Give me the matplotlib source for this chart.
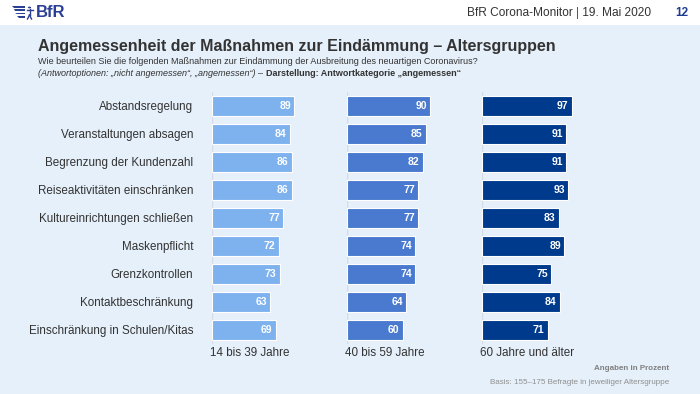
import matplotlib.pyplot as plt
from matplotlib.patches import Rectangle, Polygon, Circle
from matplotlib.lines import Line2D

plt.rcParams['font.family'] = ['Liberation Sans', 'DejaVu Sans']

massnahmen = ['Abstandsregelung', 'Veranstaltungen absagen', 'Begrenzung der Kundenzahl',
              'Reiseaktivitäten einschränken', 'Kultureinrichtungen schließen', 'Maskenpflicht',
              'Grenzkontrollen', 'Kontaktbeschränkung', 'Einschränkung in Schulen/Kitas']
gruppen = ['14 bis 39 Jahre', '40 bis 59 Jahre', '60 Jahre und älter']
jung = [89, 84, 86, 86, 77, 72, 73, 63, 69]
mittel = [90, 85, 82, 77, 77, 74, 74, 64, 60]
alt = [97, 91, 91, 93, 83, 89, 75, 84, 71]
werte = [jung, mittel, alt]
farben = ['#7EB2EF', '#4A7AD0', '#003A8C']

bg = '#E6F0FA'
txt = '#333333'
navy = '#2B3F94'
W, H = 700, 394

fig = plt.figure(figsize=(7, 3.94), dpi=100)
fig.patch.set_facecolor('white')
fig.add_artist(Rectangle((0, 0), 1, 1 - 25 / H, transform=fig.transFigure,
                         facecolor=bg, edgecolor='none', zorder=-10))
renderer = fig.canvas.get_renderer()


def px(x, y):
    return x / W, 1 - y / H


def chain(x, y, parts, **kw):
    # write several text pieces one after another on one line
    for s, extra in parts:
        t = fig.text(*px(x, y), s, va='center', ha='left', **kw, **extra)
        x += t.get_window_extent(renderer).width
    return x


# logo
for i in range(4):
    yy = 6 + i * 3.3
    xs = 12 + i * 1.5
    fig.add_artist(Polygon([px(xs, yy), px(25, yy), px(25, yy + 1.8), px(xs + 2, yy + 1.8)],
                           transform=fig.transFigure, facecolor=navy, edgecolor='none'))
fig.add_artist(Circle(px(29.5, 7.5), 1.6 / W, transform=fig.transFigure,
                      facecolor=navy, edgecolor='none'))
for seg in [((29.5, 9), (29.5, 15)), ((26.5, 10), (32.5, 10)), ((29.5, 15), (27.5, 19)),
            ((29.5, 15), (31.5, 19))]:
    (a, b), (c, d) = seg
    fig.add_artist(Line2D([a / W, c / W], [1 - b / H, 1 - d / H], transform=fig.transFigure,
                          color=navy, lw=1.0))
fig.text(*px(36, 12.5), 'BfR', fontsize=12, fontweight='bold', color=navy, va='center')

# header
chain(467, 13, [('BfR Corona-Monitor ', {'color': txt}), ('|', {'color': '#2B5FB0'}),
                 (' 19. Mai 2020', {'color': txt})], fontsize=8.6)
fig.text(*px(688, 13), '12', fontsize=8.5, fontweight='bold', color='#1F3C91', va='center', ha='right')

# title
fig.text(*px(38, 46), 'Angemessenheit der Maßnahmen zur Eindämmung – Altersgruppen',
         fontsize=11.5, fontweight='bold', color=txt, va='center')
fig.text(*px(38, 62),
         'Wie beurteilen Sie die folgenden Maßnahmen zur Eindämmung der Ausbreitung des neuartigen Coronavirus?',
         fontsize=6.5, color=txt, va='center')
chain(38, 74, [('(Antwortoptionen: „nicht angemessen“, „angemessen“) ', {'style': 'italic'}),
               ('– ', {}),
               ('Darstellung: Antwortkategorie „angemessen“', {'fontweight': 'bold'})],
      fontsize=6.5, color=txt)

# panels
lefts = [212, 347, 482]
ax_w = 92.5
top, bottom = 92, 344
ys = list(range(len(massnahmen)))
for k, (left, vals, col, grp) in enumerate(zip(lefts, werte, farben, gruppen)):
    ax = fig.add_axes([left / W, 1 - bottom / H, ax_w / W, (bottom - top) / H])
    ax.set_facecolor('none')
    ax.barh(ys, vals, height=0.68, color=col, edgecolor='white', linewidth=0.8, zorder=2)
    ax.axvline(0, color='#D5DCE6', lw=1.0, zorder=1)
    for y, v in zip(ys, vals):
        ax.text(v - 3.5, y, str(v), color='white', fontsize=7.5, fontweight='bold',
                ha='right', va='center', zorder=3)
    ax.set_xlim(0, 100)
    ax.set_ylim(len(massnahmen) - 0.5, -0.5)
    ax.set_xticks([])
    for s in ax.spines.values():
        s.set_visible(False)
    if k == 0:
        ax.set_yticks(ys)
        ax.set_yticklabels(massnahmen, fontsize=8.4, color=txt)
        ax.tick_params(axis='y', length=0, pad=13.5)
    else:
        ax.set_yticks([])
    fig.text(*px(left - 2, 353), grp, fontsize=8.4, color=txt, va='center', ha='left')

# footer
fig.text(*px(669, 369), 'Angaben in Prozent', fontsize=5.8, fontweight='bold',
         color='#808080', va='center', ha='right')
fig.text(*px(669, 382), 'Basis: 155–175 Befragte in jeweiliger Altersgruppe', fontsize=5.8,
         color='#909090', va='center', ha='right')

fig.savefig('out.png', dpi=100, facecolor=fig.get_facecolor())
